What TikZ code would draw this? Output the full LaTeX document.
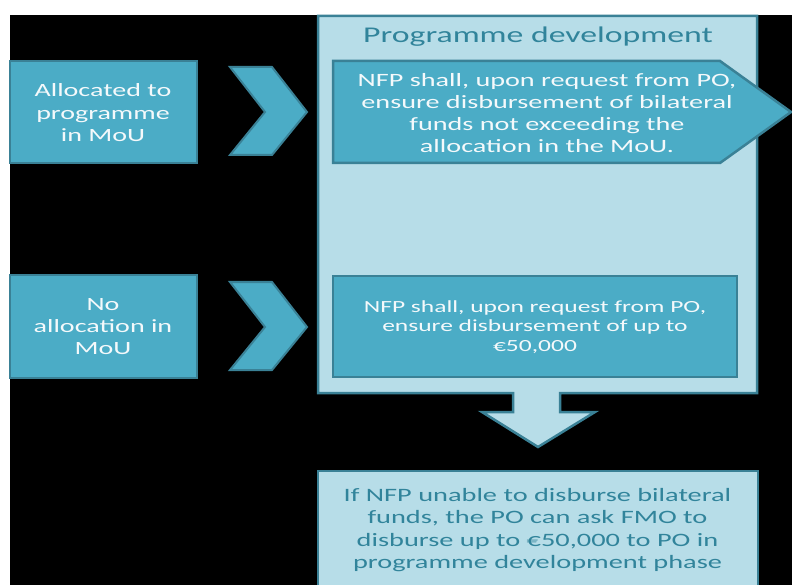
\documentclass[tikz,border=0pt]{standalone}
\usepackage{fontspec}
\setmainfont[FakeStretch=1.5]{Carlito}
\definecolor{midteal}{HTML}{4BACC6}
\definecolor{darkteal}{HTML}{3A8196}
\definecolor{lightteal}{HTML}{B7DDE8}
\definecolor{textteal}{HTML}{31849B}
\definecolor{offwhite}{HTML}{F4F9FB}
\tikzset{
  midbox/.style={draw=darkteal, line width=2.5pt, fill=midteal},
  lightbox/.style={draw=darkteal, line width=2.5pt, fill=lightteal},
  whitetext/.style={text=offwhite, align=center, inner sep=0pt},
  tealtext/.style={text=textteal, align=center, inner sep=0pt},
  chevron/.style={draw=darkteal, line width=2pt, fill=midteal, line join=miter}
}
\begin{document}
\begin{tikzpicture}[x=1pt,y=-1pt]
\useasboundingbox (0,0) rectangle (792,585);
\fill[white] (0,0) rectangle (792,585);
\fill[black] (10,15) rectangle (792,585);

% programme development panel with down arrow
\draw[lightbox] (318,16) -- (757,16) -- (757,393) -- (560,393) -- (560,412) -- (595,412)
  -- (538,447) -- (482,412) -- (513,412) -- (513,393) -- (318,393) -- cycle;
\node[tealtext, font=\fontsize{22.5}{26}\selectfont] (title) at (538,37) {Programme development};

% left boxes
\node[midbox, minimum width=187pt, minimum height=102pt, inner sep=0pt] (a1) at (103.5,112) {};
\node[whitetext, font=\fontsize{18.7}{22.5}\selectfont] (t1) at (103,113) {Allocated to\\programme\\in MoU};
\node[midbox, minimum width=187pt, minimum height=103pt, inner sep=0pt] (a2) at (103.5,326.5) {};
\node[whitetext, font=\fontsize{18.7}{22}\selectfont] (t2) at (103,327) {No\\allocation in\\MoU};

% chevrons
\draw[chevron] (230,67) -- (272,67) -- (307,112) -- (272,155) -- (230,155) -- (265,112) -- cycle;
\draw[chevron] (230,282) -- (272,282) -- (307,327) -- (272,370) -- (230,370) -- (265,327) -- cycle;

% NFP boxes
\draw[midbox] (333,61) -- (720,61) -- (791,112) -- (720,163) -- (333,163) -- cycle;
\node[whitetext, font=\fontsize{18.8}{22}\selectfont] (n1) at (547,113)
  {NFP shall, upon request from PO,\\ensure disbursement of bilateral\\funds not exceeding the\\allocation in the MoU.};
\node[midbox, minimum width=404pt, minimum height=101pt, inner sep=0pt] (b2) at (535,326.5) {};
\node[whitetext, font=\fontsize{17}{19.5}\selectfont] (n2) at (535,327)
  {NFP shall, upon request from PO,\\ensure disbursement of up to\\€50,000};

% bottom box
\node[lightbox, minimum width=440pt, minimum height=118pt, inner sep=0pt] (c) at (538,530) {};
\node[tealtext, font=\fontsize{18.9}{22.5}\selectfont] (ct) at (537.5,530)
  {If NFP unable to disburse bilateral\\funds, the PO can ask FMO to\\disburse up to €50,000 to PO in\\programme development phase};
\end{tikzpicture}
\end{document}
